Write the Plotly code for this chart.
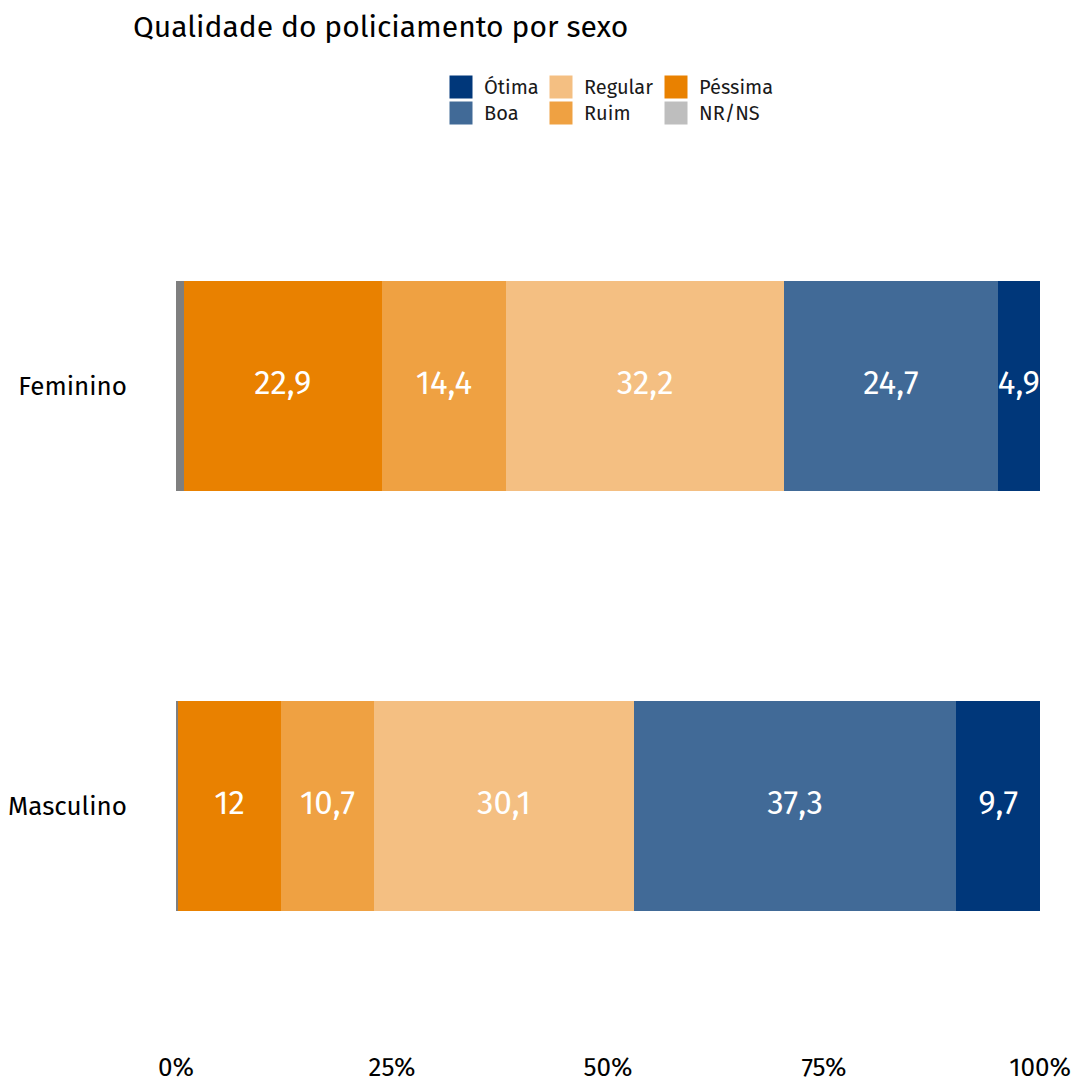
import plotly.graph_objects as go

categories = ["Masculino", "Feminino"]
series_names = ["NR/NS", "Péssima", "Ruim", "Regular", "Boa", "Ótima"]
nrns = [0.2, 0.9]
pessima = [12.0, 22.9]
ruim = [10.7, 14.4]
regular = [30.1, 32.2]
boa = [37.3, 24.7]
otima = [9.7, 4.9]
x_ticks = [0, 25, 50, 75, 100]
x_tick_labels = ["0%", "25%", "50%", "75%", "100%"]

legend_order = ["Ótima", "Boa", "Regular", "Ruim", "Péssima", "NR/NS"]

bar_colors = {
    "NR/NS": "#7f7f7f",
    "Péssima": "#e98100",
    "Ruim": "#efa142",
    "Regular": "#f4bf82",
    "Boa": "#416a97",
    "Ótima": "#00377a",
}
legend_colors = dict(bar_colors)
legend_colors["NR/NS"] = "#bebebe"

FONT = "Fira Sans, Noto Sans, Open Sans, sans-serif"
W, H = 1074, 1083
ML, MT = 176, 176
PR, PB = 1040, 1016
MR, MB = W - PR, H - PB
PW, PH = PR - ML, PB - MT

values = {"NR/NS": nrns, "Péssima": pessima, "Ruim": ruim,
          "Regular": regular, "Boa": boa, "Ótima": otima}


def fmt(v):
    s = ("%.1f" % v).rstrip("0").rstrip(".")
    return s.replace(".", ",")


fig = go.Figure()
cum = [0.0] * len(categories)
lab_x, lab_y, lab_t = [], [], []
for name in series_names:
    vals = values[name]
    fig.add_trace(go.Bar(
        y=categories, x=vals, orientation="h", name=name,
        marker=dict(color=bar_colors[name], line=dict(width=0)),
        width=0.5, showlegend=False, hoverinfo="x+name",
    ))
    for j, v in enumerate(vals):
        if name != "NR/NS":
            lab_x.append(cum[j] + v / 2)
            lab_y.append(categories[j])
            lab_t.append(fmt(v))
        cum[j] += v

fig.add_trace(go.Scatter(
    x=lab_x, y=lab_y, text=lab_t, mode="text",
    textposition="middle center",
    textfont=dict(family=FONT, size=33, color="white"),
    showlegend=False, hoverinfo="skip", cliponaxis=False,
))


def sx(px):
    return (px - ML) / PW


def sy(py):
    return (PB - py) / PH


col_x = [449, 549, 664]
row_y = [75, 101]
sw = 24
shapes = []
annotations = []
for i, name in enumerate(legend_order):
    c, r = i // 2, i % 2
    x0 = col_x[c]
    y0 = row_y[r]
    shapes.append(dict(
        type="rect", xref="paper", yref="paper",
        x0=sx(x0), x1=sx(x0 + sw),
        y0=sy(y0 + sw), y1=sy(y0),
        fillcolor=legend_colors[name], line=dict(width=1, color="white"),
    ))
    annotations.append(dict(
        xref="paper", yref="paper", x=sx(x0 + sw + 9),
        y=sy(y0 + sw / 2), text=name, showarrow=False,
        xanchor="left", yanchor="middle",
        font=dict(family=FONT, size=20, color="#1a1a1a"),
    ))

fig.update_layout(
    width=W, height=H,
    margin=dict(l=ML, r=MR, t=MT, b=MB, autoexpand=False),
    barmode="stack",
    plot_bgcolor="white", paper_bgcolor="white",
    font=dict(family=FONT, color="black"),
    title=dict(text="Qualidade do policiamento por sexo",
               x=133 / W, xref="container", xanchor="left",
               y=1 - 26 / H, yref="container", yanchor="middle",
               font=dict(family=FONT, size=30, color="black")),
    shapes=shapes,
    annotations=annotations,
    showlegend=False,
)
fig.update_xaxes(range=[0, 100], tickvals=x_ticks, ticktext=x_tick_labels,
                 showgrid=False, zeroline=False, showline=False,
                 ticks="", ticklabelstandoff=33,
                 tickfont=dict(family=FONT, size=26, color="black"),
                 fixedrange=True)
fig.update_yaxes(categoryorder="array", categoryarray=categories,
                 range=[-0.5, 1.5],
                 showgrid=False, zeroline=False, showline=False,
                 ticks="", ticklabelstandoff=48,
                 tickfont=dict(family=FONT, size=26, color="black"),
                 fixedrange=True)

fig.write_html(
    "out.html",
    config={"displayModeBar": False},
    post_script="document.body.style.margin='0';"
                "document.body.style.overflow='hidden';",
)
